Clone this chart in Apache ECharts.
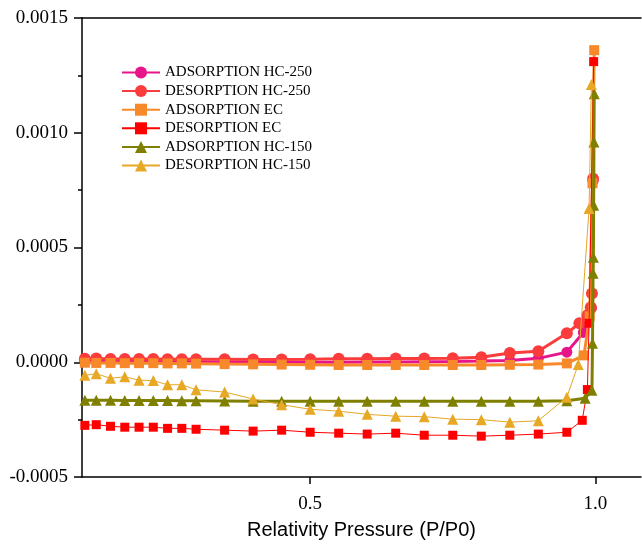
<!DOCTYPE html>
<html><head><meta charset="utf-8">
<script src="https://cdn.jsdelivr.net/npm/echarts@6/dist/echarts.min.js"></script>
<style>html,body{margin:0;padding:0;background:#fff}#c{width:642px;height:548px}</style>
</head><body><div id="c"></div>
<script>
const seriesNames = ['ADSORPTION HC-250','DESORPTION HC-250','ADSORPTION EC','DESORPTION EC','ADSORPTION HC-150','DESORPTION HC-150'];
const pLow = [0.105,0.125,0.15,0.175,0.2,0.225,0.25,0.275,0.3,0.35,0.4,0.45,0.5,0.55,0.6,0.65,0.7,0.75,0.8,0.85,0.9,0.95];

const adsHC250Low = [0.000004,0.000004,0.000003,0.000003,0.000003,0.000003,0.000002,0.000002,0.000002,0.000001,0.000001,0.0,0.0,0.0,0.000001,0.000001,0.000002,0.000003,0.000005,0.000008,0.000017,0.000044];
const adsHC250TailX = [0.979,0.993,0.996];
const adsHC250TailY = [0.00013,0.000235,0.00079];

const desHC250Low = [0.000015,0.000016,0.000014,0.000014,0.000014,0.000014,0.000013,0.000013,0.000013,0.000013,0.000012,0.000012,0.000013,0.000015,0.000015,0.000016,0.000016,0.000017,0.000022,0.00004,0.000048,0.000126];
const desHC250TailX = [0.972,0.986,0.992,0.994,0.996];
const desHC250TailY = [0.00017,0.000205,0.00024,0.0003,0.0008];

const adsECLow = [-0.000002,-0.000003,-0.000003,-0.000004,-0.000004,-0.000004,-0.000005,-0.000005,-0.000006,-0.000008,-0.000009,-0.00001,-0.000011,-0.000012,-0.000012,-0.000012,-0.000012,-0.000012,-0.000012,-0.000011,-0.00001,-0.000005];
const adsECTailX = [0.98,0.99,0.995,0.998];
const adsECTailY = [0.00003,0.0002,0.00078,0.00136];

const desECLow = [-0.000275,-0.000272,-0.000279,-0.000283,-0.000283,-0.000283,-0.000288,-0.000288,-0.000292,-0.000296,-0.0003,-0.000296,-0.000305,-0.000309,-0.000313,-0.000309,-0.000318,-0.000318,-0.000322,-0.000318,-0.000313,-0.000305];
const desECTailX = [0.977,0.986,0.989,0.997];
const desECTailY = [-0.000253,-0.000119,0.00017,0.00131];

const adsHC150Low = [-0.000166,-0.000166,-0.000166,-0.000167,-0.000167,-0.000167,-0.000167,-0.000168,-0.000168,-0.000169,-0.00017,-0.00017,-0.00017,-0.00017,-0.00017,-0.00017,-0.00017,-0.00017,-0.00017,-0.00017,-0.00017,-0.000168];
const adsHC150TailX = [0.982,0.994,0.995,0.996,0.9965,0.997,0.9975,0.998];
const adsHC150TailY = [-0.000157,-0.000122,0.000083,0.000388,0.000458,0.000684,0.00096,0.00117];

const desHC150Low = [-0.000057,-0.00005,-0.00007,-0.000063,-0.000078,-0.00008,-0.000098,-0.000098,-0.00012,-0.00013,-0.00016,-0.000185,-0.000205,-0.000213,-0.000227,-0.000235,-0.000237,-0.000248,-0.00025,-0.000261,-0.000255,-0.000152];
const desHC150TailX = [0.97,0.989,0.993];
const desHC150TailY = [-0.00001,0.00067,0.00121];

const xTickLabels = [0.5, 1.0];
const xMinorTicks = [0.75];

function pairs(lowY, tx, ty){
  const xs = pLow.concat(tx), ys = lowY.concat(ty);
  return xs.map((x,i)=>[x, ys[i]]);
}

const colors = ['#E8158A','#FA3C3C','#F7892B','#FF0000','#808000','#E6A825'];
const symbols = ['circle','circle','rect','rect','triangle','triangle'];
const widths = [3,3,3,1,3,1];
const sizes = [11,12,10,9,11,11];
const dataSets = [
  pairs(adsHC250Low, adsHC250TailX, adsHC250TailY),
  pairs(desHC250Low, desHC250TailX, desHC250TailY),
  pairs(adsECLow, adsECTailX, adsECTailY),
  pairs(desECLow, desECTailX, desECTailY),
  pairs(adsHC150Low, adsHC150TailX, adsHC150TailY),
  pairs(desHC150Low, desHC150TailX, desHC150TailY)
];

const serif = '"Liberation Serif","Times New Roman",serif';
const chart = echarts.init(document.getElementById('c'), null, {renderer:'canvas'});
chart.setOption({
  animation:false,
  backgroundColor:'#fff',
  grid:{left:82, right:1, top:18, bottom:71, containLabel:false},
  legend:{
    orient:'vertical', left:116, top:60, itemWidth:38, itemHeight:15, itemGap:3.6,
    textStyle:{fontFamily:serif, fontSize:15, color:'#000', lineHeight:15},
    data: seriesNames
  },
  xAxis:[{
    type:'value', min:0.1, max:1.08, position:'bottom',
    axisLine:{show:true, onZero:false, lineStyle:{color:'#000', width:1.5}},
    axisTick:{show:true, length:7, lineStyle:{color:'#000', width:1.5}, customValues: xTickLabels},
    axisLabel:{show:true, margin:18, fontFamily:serif, fontSize:19, color:'#000', customValues: xTickLabels,
      formatter: v => v.toFixed(1)},
    splitLine:{show:false},
    name:'Relativity Pressure (P/P0)', nameLocation:'middle', nameGap:43,
    nameTextStyle:{fontFamily:'"Liberation Sans",Arial,sans-serif', fontSize:20, color:'#000'}
  },{
    type:'value', min:0.1, max:1.08, position:'bottom',
    axisLine:{show:false},
    axisTick:{show:true, length:3.5, lineStyle:{color:'#000', width:1.5}, customValues: xMinorTicks},
    axisLabel:{show:false}, splitLine:{show:false}
  },{
    type:'value', min:0.1, max:1.08, position:'top',
    axisLine:{show:true, lineStyle:{color:'#000', width:1.5}},
    axisTick:{show:false}, axisLabel:{show:false}, splitLine:{show:false}
  }],
  yAxis:{
    type:'value', min:-0.0005, max:0.0015, interval:0.0005,
    axisLine:{show:true, onZero:false, lineStyle:{color:'#000', width:1.5}},
    axisTick:{show:true, length:8, lineStyle:{color:'#000', width:1.5}},
    minorTick:{show:true, splitNumber:2, length:4, lineStyle:{color:'#000', width:1.5}},
    axisLabel:{margin:14, fontFamily:serif, fontSize:19, color:'#000', formatter: v => v.toFixed(4)},
    splitLine:{show:false}
  },
  series: seriesNames.map((n,i)=>({
    name:n, type:'line', xAxisIndex:0, data:dataSets[i],
    symbol:symbols[i], symbolSize:sizes[i], showAllSymbol:true,
    lineStyle:{color:colors[i], width:widths[i]},
    itemStyle:{color:colors[i]},
    z: 2+i
  }))
});
</script></body></html>
